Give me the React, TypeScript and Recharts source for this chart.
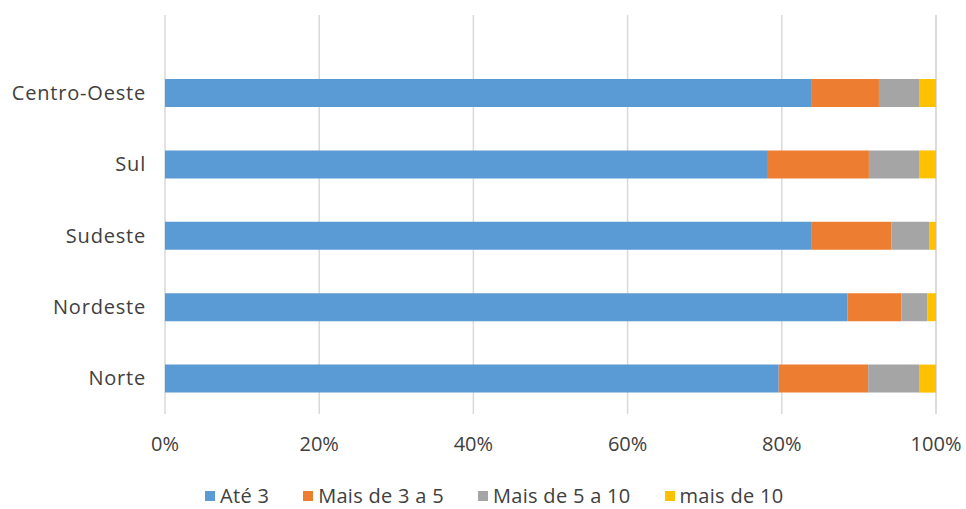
import { BarChart, Bar, XAxis, YAxis, CartesianGrid, Legend } from 'recharts';

const regions = ['Centro-Oeste', 'Sul', 'Sudeste', 'Nordeste', 'Norte'];
const ate3 = [83.9, 78.2, 83.8, 88.5, 79.6];
const de3a5 = [8.7, 13.1, 10.4, 7.0, 11.6];
const de5a10 = [5.2, 6.5, 4.9, 3.4, 6.6];
const mais10 = [2.2, 2.2, 0.9, 1.1, 2.2];
const xTicks = [0, 20, 40, 60, 80, 100];

const series = [
  { key: 'ate3', name: 'Até 3', color: '#5B9BD5' },
  { key: 'de3a5', name: 'Mais de 3 a 5', color: '#ED7D31' },
  { key: 'de5a10', name: 'Mais de 5 a 10', color: '#A5A5A5' },
  { key: 'mais10', name: 'mais de 10', color: '#FFC000' },
];

const data = regions.map((region, i) => ({
  region,
  ate3: ate3[i],
  de3a5: de3a5[i],
  de5a10: de5a10[i],
  mais10: mais10[i],
}));

const font = '"Open Sans", sans-serif';

function LegendRow() {
  return (
    <div style={{ display: 'flex', alignItems: 'center', fontFamily: font, fontSize: 20, lineHeight: '20px', letterSpacing: 0.3, color: '#404040', whiteSpace: 'nowrap' }}>
      {series.map(s => (
        <span key={s.key} style={{ display: 'inline-flex', alignItems: 'center', marginRight: 34 }}>
          <span style={{ width: 10, height: 10, background: s.color, marginRight: 5, display: 'inline-block' }} />
          {s.name}
        </span>
      ))}
    </div>
  );
}

export default function App() {
  return (
    <div style={{ position: 'absolute', left: 0, top: 0, background: '#fff' }}>
      <BarChart
        width={966}
        height={509}
        data={data}
        layout="vertical"
        margin={{ top: 15, right: 30, bottom: 0, left: 0 }}
      >
        <CartesianGrid horizontal={false} stroke="#d9d9d9" strokeWidth={1.5} />
        <XAxis
          type="number"
          domain={[0, 100]}
          ticks={xTicks}
          tickFormatter={v => `${v}%`}
          axisLine={false}
          tickLine={false}
          tickSize={0}
          tickMargin={23}
          height={95}
          tick={{ fontFamily: font, fontSize: 20, fill: '#404040' }}
        />
        <YAxis
          type="category"
          dataKey="region"
          width={165}
          axisLine={false}
          tickLine={false}
          tickSize={0}
          tickMargin={19}
          padding={{ top: 42, bottom: 0 }}
          tick={{ fontFamily: font, fontSize: 20, fill: '#404040', letterSpacing: 0.8 }}
        />
        {series.map(s => (
          <Bar
            key={s.key}
            dataKey={s.key}
            name={s.name}
            stackId="total"
            fill={s.color}
            barSize={28}
            isAnimationActive={false}
          />
        ))}
        <Legend
          layout="horizontal"
          verticalAlign="middle"
          align="center"
          content={<LegendRow />}
          wrapperStyle={{ left: 205, top: 486, width: 'auto' }}
        />
      </BarChart>
    </div>
  );
}
